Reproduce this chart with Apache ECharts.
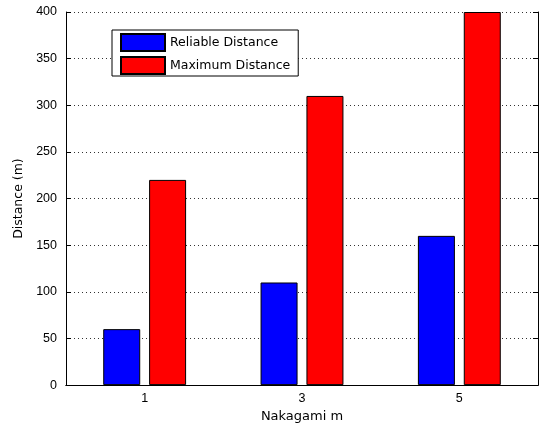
<!DOCTYPE html>
<html>
<head>
<meta charset="utf-8">
<script src="https://cdn.jsdelivr.net/npm/echarts@6/dist/echarts.min.js"></script>
<style>
  html, body { margin: 0; padding: 0; background: #fff; }
  #chart { width: 539px; height: 428px; }
</style>
</head>
<body>
<div id="chart"></div>
<script>
/* data */
const categories = ['1', '3', '5'];
const reliable = [60, 110, 160];
const maximum = [220, 310, 400];
const yTicks = { min: 0, max: 400, interval: 50 };

const FONT = "'Liberation Sans', Arial, sans-serif";
const WIDE = "'DejaVu Sans', sans-serif";
const chart = echarts.init(document.getElementById('chart'), null, { renderer: 'canvas' });

const tickStyle = { lineStyle: { color: '#000', width: 1 } };

chart.setOption({
  animation: false,
  backgroundColor: '#fff',
  textStyle: { fontFamily: FONT },
  grid: { left: 66, top: 12, right: 1, bottom: 42, containLabel: false },
  legend: {
    orient: 'vertical',
    left: 112,
    top: 30,
    padding: [3, 8, 1, 8],
    itemWidth: 44,
    itemHeight: 17,
    itemGap: 4,
    borderColor: '#000',
    borderWidth: 1,
    backgroundColor: '#fff',
    icon: 'rect',
    textStyle: { fontFamily: WIDE, fontSize: 12.5, color: '#000' },
    data: ['Reliable Distance', 'Maximum Distance']
  },
  xAxis: [{
    type: 'category',
    data: categories,
    position: 'bottom',
    name: 'Nakagami m',
    nameLocation: 'middle',
    nameGap: 24,
    nameTextStyle: { fontFamily: WIDE, fontSize: 13, color: '#000' },
    axisLine: { lineStyle: { color: '#000', width: 1 } },
    axisTick: Object.assign({ inside: true, alignWithLabel: true, length: 5 }, tickStyle),
    axisLabel: { fontFamily: FONT, fontSize: 12.5, color: '#000', margin: 7 },
    splitLine: { show: false }
  }, {
    type: 'category',
    data: categories,
    position: 'top',
    axisLine: { lineStyle: { color: '#000', width: 1 } },
    axisTick: Object.assign({ inside: true, alignWithLabel: true, length: 5 }, tickStyle),
    axisLabel: { show: false },
    splitLine: { show: false }
  }],
  yAxis: [{
    type: 'value',
    min: yTicks.min,
    max: yTicks.max,
    interval: yTicks.interval,
    position: 'left',
    name: 'Distance (m)',
    nameLocation: 'middle',
    nameGap: 35,
    nameTextStyle: { fontFamily: WIDE, fontSize: 12.5, color: '#000' },
    axisLine: { show: true, lineStyle: { color: '#000', width: 1 } },
    axisTick: Object.assign({ show: true, inside: true, length: 5 }, tickStyle),
    axisLabel: { fontFamily: FONT, fontSize: 12.5, color: '#000', margin: 9 },
    splitLine: { show: true, lineStyle: { color: '#333', type: [1, 3], width: 1 } }
  }, {
    type: 'value',
    min: yTicks.min,
    max: yTicks.max,
    interval: yTicks.interval,
    position: 'right',
    axisLine: { show: true, lineStyle: { color: '#000', width: 1 } },
    axisTick: Object.assign({ show: true, inside: true, length: 5 }, tickStyle),
    axisLabel: { show: false },
    splitLine: { show: false }
  }],
  series: [{
    name: 'Reliable Distance',
    type: 'bar',
    data: reliable,
    barWidth: 37,
    barGap: '24%',
    itemStyle: { color: '#0000ff', borderColor: '#000', borderWidth: 1 }
  }, {
    name: 'Maximum Distance',
    type: 'bar',
    data: maximum,
    barWidth: 37,
    barGap: '24%',
    itemStyle: { color: '#ff0000', borderColor: '#000', borderWidth: 1 }
  }]
});
</script>
</body>
</html>
